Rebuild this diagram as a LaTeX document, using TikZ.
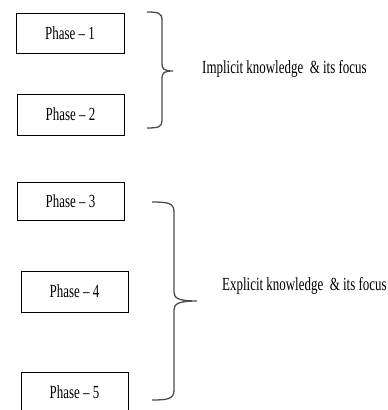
\documentclass[tikz,border=0pt]{standalone}
\usepackage{fontspec}
\setmainfont[FakeStretch=0.7]{Liberation Serif}
\begin{document}
\begin{tikzpicture}[x=1pt,y=-1pt,
  phasebox/.style={draw=black, line width=0.9pt, rectangle, minimum width=107pt, minimum height=40pt, inner sep=0pt, font=\fontsize{18.5}{20}\selectfont},
  lbl/.style={anchor=west, inner sep=0pt, font=\fontsize{18.5}{20}\selectfont},
  bracestyle/.style={draw=black!70, line width=1.3pt}]
\useasboundingbox (0,0) rectangle (388,410);
\node[phasebox, minimum width=108pt] (p1) at (70,33) {Phase -- 1};
\node[phasebox, minimum height=41pt] (p2) at (70.5,114.5) {Phase -- 2};
\node[phasebox, minimum height=38pt] (p3) at (70.5,201) {Phase -- 3};
\node[phasebox, minimum height=41pt] (p4) at (74.5,291.5) {Phase -- 4};
\node[phasebox] (p5) at (74.5,392) {Phase -- 5};
\node[lbl] (t1) at (202,69) {Implicit knowledge\ \ \& its focus};
\node[lbl] (t2) at (222,286) {Explicit knowledge\ \ \& its focus};
% brace 1
\draw[bracestyle] (147,12) .. controls (158,12) and (162,13) .. (162,20) -- (162,64)
  .. controls (162,69) and (164,71) .. (173,71)
  .. controls (164,71) and (162,73) .. (162,78) -- (162,121)
  .. controls (162,127) and (158,128) .. (147,128);
% brace 2
\draw[bracestyle] (152,202) .. controls (168,202) and (174,203) .. (174,212) -- (174,292)
  .. controls (174,298) and (178,301) .. (197,301)
  .. controls (178,301) and (174,304) .. (174,310) -- (174,390)
  .. controls (174,399) and (168,400) .. (152,400);
\end{tikzpicture}
\end{document}
